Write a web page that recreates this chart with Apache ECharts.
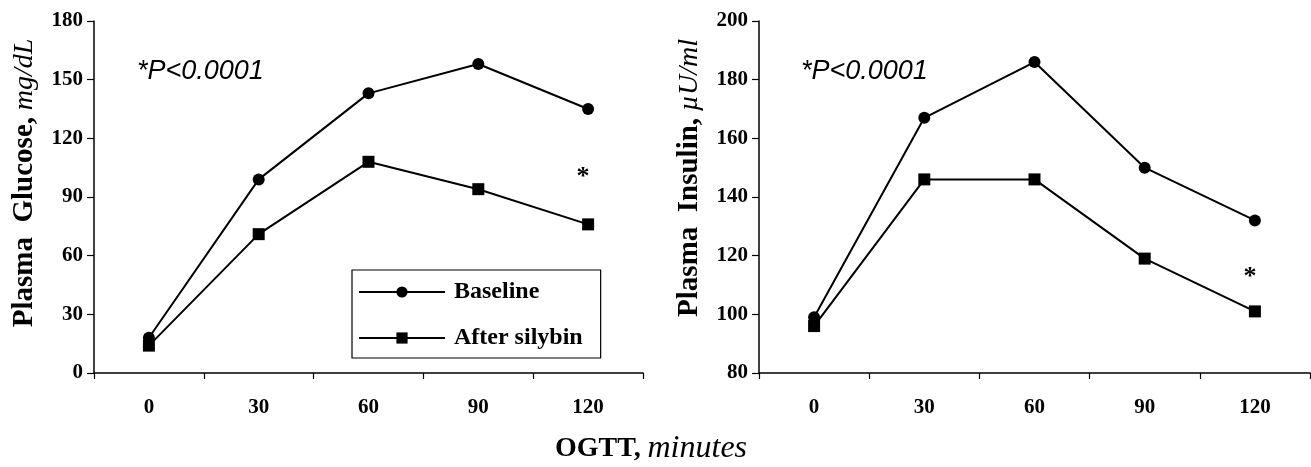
<!DOCTYPE html>
<html>
<head>
<meta charset="utf-8">
<script src="https://cdn.jsdelivr.net/npm/echarts@6/dist/echarts.min.js"></script>
<style>
  html, body { margin: 0; padding: 0; background: #fff; }
  #chart { width: 1311px; height: 467px; }
</style>
</head>
<body>
<div id="chart"></div>
<script>
// OGTT time points (minutes)
const minutes = ['0', '30', '60', '90', '120'];

// plasma glucose, mg/dL
const glucoseBaseline = [18, 99, 143, 158, 135];
const glucoseSilybin = [14, 71, 108, 94, 76];

// plasma insulin, µU/ml
const insulinBaseline = [99, 167, 186, 150, 132];
const insulinSilybin = [96, 146, 146, 119, 101];

const glucoseTicks = { min: 0, max: 180, interval: 30 };
const insulinTicks = { min: 80, max: 200, interval: 20 };

const serif = '"Liberation Serif", "Times New Roman", serif';
const sans = '"Liberation Sans", Arial, sans-serif';

const chart = echarts.init(document.getElementById('chart'));

function xAxisFor(idx) {
  return {
    type: 'category',
    gridIndex: idx,
    data: minutes,
    boundaryGap: true,
    axisLine: { lineStyle: { color: '#000', width: 1.5 } },
    axisTick: { show: true, length: 6, lineStyle: { color: '#000', width: 1.2 } },
    axisLabel: { color: '#000', fontFamily: serif, fontSize: 21, fontWeight: 'bold', margin: 24 }
  };
}

function yAxisFor(idx, ticks, name, gap, shift) {
  return {
    type: 'value',
    gridIndex: idx,
    min: ticks.min,
    max: ticks.max,
    interval: ticks.interval,
    name: name,
    nameLocation: 'middle',
    nameRotate: 90,
    nameGap: gap,
    nameTextStyle: {
      padding: [0, 0, 0, shift],
      rich: {
        b: { fontFamily: serif, fontSize: 29, fontWeight: 'bold', color: '#000' },
        i: { fontFamily: serif, fontSize: 28, fontStyle: 'italic', color: '#000' }
      }
    },
    splitLine: { show: false },
    axisLine: { show: true, lineStyle: { color: '#000', width: 1.5 } },
    axisTick: { show: true, length: 7, lineStyle: { color: '#000', width: 1.2 } },
    axisLabel: { color: '#000', fontFamily: serif, fontSize: 21, fontWeight: 'bold', margin: 11 }
  };
}

function line(name, data, symbol, idx, star) {
  const s = {
    name: name,
    type: 'line',
    xAxisIndex: idx,
    yAxisIndex: idx,
    data: data,
    symbol: symbol,
    symbolSize: 12,
    showAllSymbol: true,
    lineStyle: { color: '#000', width: 2 },
    itemStyle: { color: '#000' },
    emphasis: { disabled: true }
  };
  if (star) {
    s.markPoint = {
      symbol: 'circle',
      symbolSize: 0,
      data: [{ coord: [4, star] }],
      label: {
        show: true,
        formatter: '*',
        offset: [-5, 4],
        color: '#000',
        fontFamily: serif,
        fontSize: 26,
        fontWeight: 'bold'
      }
    };
  }
  return s;
}

chart.setOption({
  animation: false,
  backgroundColor: '#fff',
  grid: [
    { left: 94, top: 21, width: 549, height: 352 },
    { left: 759, top: 21, width: 551, height: 352 }
  ],
  xAxis: [xAxisFor(0), xAxisFor(1)],
  yAxis: [
    yAxisFor(0, glucoseTicks, '{b|Plasma  Glucose,}  {i|mg/dL}', 55, 28),
    yAxisFor(1, insulinTicks, '{b|Plasma  Insulin,}  {i|µU/ml}', 55, 38)
  ],
  legend: {
    data: ['Baseline', 'After silybin'],
    orient: 'vertical',
    left: 352,
    top: 270,
    padding: [10, 18, 8, 6],
    itemGap: 22,
    itemWidth: 86,
    itemHeight: 14,
    borderColor: '#000',
    borderWidth: 1.2,
    textStyle: { fontFamily: serif, fontSize: 24, fontWeight: 'bold', color: '#000', padding: [0, 0, 0, 4] },
    selectedMode: false
  },
  graphic: [
    {
      type: 'text', left: 137, top: 58,
      style: { text: '*P<0.0001', font: 'italic 27px ' + sans, fill: '#000' }
    },
    {
      type: 'text', left: 801, top: 58,
      style: { text: '*P<0.0001', font: 'italic 27px ' + sans, fill: '#000' }
    },
    {
      type: 'text', left: 555, top: 433,
      style: {
        text: '{b|OGTT,}  {i|minutes}',
        rich: {
          b: { fontFamily: serif, fontSize: 28, fontWeight: 'bold', fill: '#000' },
          i: { fontFamily: serif, fontSize: 32, fontStyle: 'italic', fill: '#000' }
        }
      }
    }
  ],
  series: [
    line('Baseline', glucoseBaseline, 'circle', 0),
    line('After silybin', glucoseSilybin, 'rect', 0, 102),
    line('Baseline', insulinBaseline, 'circle', 1),
    line('After silybin', insulinSilybin, 'rect', 1, 114)
  ]
});
</script>
</body>
</html>
